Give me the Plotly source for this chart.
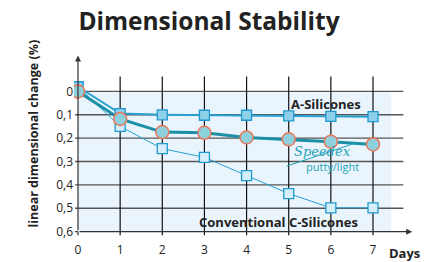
import plotly.graph_objects as go

days = [0, 1, 2, 3, 4, 5, 6, 7]
a_silicones = [-0.02, 0.095, 0.10, 0.102, 0.102, 0.105, 0.107, 0.108]
speedex = [0.0, 0.118, 0.174, 0.177, 0.197, 0.205, 0.215, 0.227]
c_silicones = [-0.02, 0.15, 0.245, 0.282, 0.36, 0.437, 0.498, 0.498]
y_ticks = [0, 0.1, 0.2, 0.3, 0.4, 0.5, 0.6]
y_tick_labels = ["0", "0,1", "0,2", "0,3", "0,4", "0,5", "0,6"]

FONT = "Open Sans"
LINE_BLUE = "#27a2d0"
TEAL = "#1a8fa5"

# page body has an 8px default margin, so the figure is drawn 8px smaller
W, H = 427, 254

fig = go.Figure()

shapes = []
# background panel
shapes.append(dict(type="rect", xref="x", yref="y", x0=0, x1=7.43, y0=0, y1=0.6,
                   fillcolor="#eaf4fc", line=dict(width=0), layer="below"))
# horizontal grid
for v in y_ticks[:-1]:
    shapes.append(dict(type="line", xref="x", yref="y", x0=-0.07, x1=7.72, y0=v, y1=v,
                       line=dict(color="#555555", width=1.4), layer="below"))
# vertical grid
for d in days[1:]:
    shapes.append(dict(type="line", xref="x", yref="y", x0=d, x1=d, y0=-0.064, y1=0.615,
                       line=dict(color="#111111", width=1.2), layer="below"))
# tick at 0.6 left
shapes.append(dict(type="line", xref="x", yref="y", x0=-0.07, x1=0, y0=0.6, y1=0.6,
                   line=dict(color="#333333", width=1.2), layer="below"))
# x tick at 0
shapes.append(dict(type="line", xref="x", yref="y", x0=0, x1=0, y0=0.6, y1=0.615,
                   line=dict(color="#333333", width=1.2), layer="below"))
# swoosh under the Speedex logo
shapes.append(dict(type="line", xref="x", yref="y", x0=4.95, x1=6.6, y0=0.32, y1=0.22,
                   line=dict(color="#1ea3b5", width=1)))

fig.add_trace(go.Scatter(
    x=days, y=c_silicones, mode="lines+markers", name="Conventional C-Silicones",
    line=dict(color=LINE_BLUE, width=1),
    marker=dict(symbol="square", size=10, color="#d6eef9", line=dict(color="#1f9ad0", width=1.3)),
))
fig.add_trace(go.Scatter(
    x=days, y=a_silicones, mode="lines+markers", name="A-Silicones",
    line=dict(color=LINE_BLUE, width=2),
    marker=dict(symbol="square", size=10, color="#8ecfe9", line=dict(color="#1f9ad0", width=1.3)),
))
fig.add_trace(go.Scatter(
    x=days, y=speedex, mode="lines+markers", name="Speedex putty/light",
    line=dict(color=TEAL, width=3),
    marker=dict(symbol="circle", size=13, color="#8ed0dc", line=dict(color="#e8795c", width=1.5)),
))

annotations = [
    # axis arrows
    dict(x=0, y=-0.154, ax=0, ay=0.6, xref="x", yref="y", axref="x", ayref="y",
         showarrow=True, arrowhead=2, arrowsize=1, arrowwidth=1.2, arrowcolor="#333333", text=""),
    dict(x=7.93, y=0.6, ax=0, ay=0.6, xref="x", yref="y", axref="x", ayref="y",
         showarrow=True, arrowhead=2, arrowsize=1, arrowwidth=1.2, arrowcolor="#333333", text=""),
    dict(x=5.885, y=0.055, xref="x", yref="y", text="<b>A-Silicones</b>", showarrow=False,
         font=dict(family=FONT, size=13, color="#222222")),
    dict(x=4.746, y=0.557, xref="x", yref="y", text="<b>Conventional C-Silicones</b>", showarrow=False,
         font=dict(family=FONT, size=13, color="#222222")),
    dict(x=5.8, y=0.255, xref="x", yref="y", text="<i>Speedex</i>", showarrow=False,
         font=dict(family="DejaVu Serif", size=13, color="#1ea3b5")),
    dict(x=6.05, y=0.322, xref="x", yref="y", text="putty/light", showarrow=False,
         font=dict(family=FONT, size=11, color="#1ea3b5")),
    dict(x=7.75, y=0.64, xref="x", yref="y", yanchor="top", yshift=-1, text="<b>Days</b>", showarrow=False,
         font=dict(family=FONT, size=13, color="#222222")),
    dict(x=-0.148, y=0.572, xref="paper", yref="paper", text="<b>linear dimensional change (%)</b>",
         textangle=-90, showarrow=False, font=dict(family=FONT, size=12.5, color="#222222")),
]

fig.update_layout(
    width=W, height=H,
    margin=dict(l=66, r=10, t=46, b=21, autoexpand=False),
    paper_bgcolor="white", plot_bgcolor="white",
    showlegend=False,
    title=dict(text="<b>Dimensional Stability</b>", x=201/W, xanchor="center",
               y=1 - 13.5/H, yanchor="middle", xref="container", yref="container",
               font=dict(family=FONT, size=24.5, color="#222222")),
    shapes=shapes,
    annotations=annotations,
    xaxis=dict(range=[-0.095, 8.234], tickvals=days, ticktext=[str(d) for d in days],
               showgrid=False, zeroline=False, showline=False, ticks="", automargin=False,
               tickfont=dict(family=FONT, size=12, color="#222222")),
    yaxis=dict(range=[0.64, -0.16], tickvals=y_ticks, ticktext=y_tick_labels,
               showgrid=False, zeroline=False, showline=False, ticks="", automargin=False,
               tickfont=dict(family=FONT, size=12, color="#222222")),
)

fig.write_html("out.html")
